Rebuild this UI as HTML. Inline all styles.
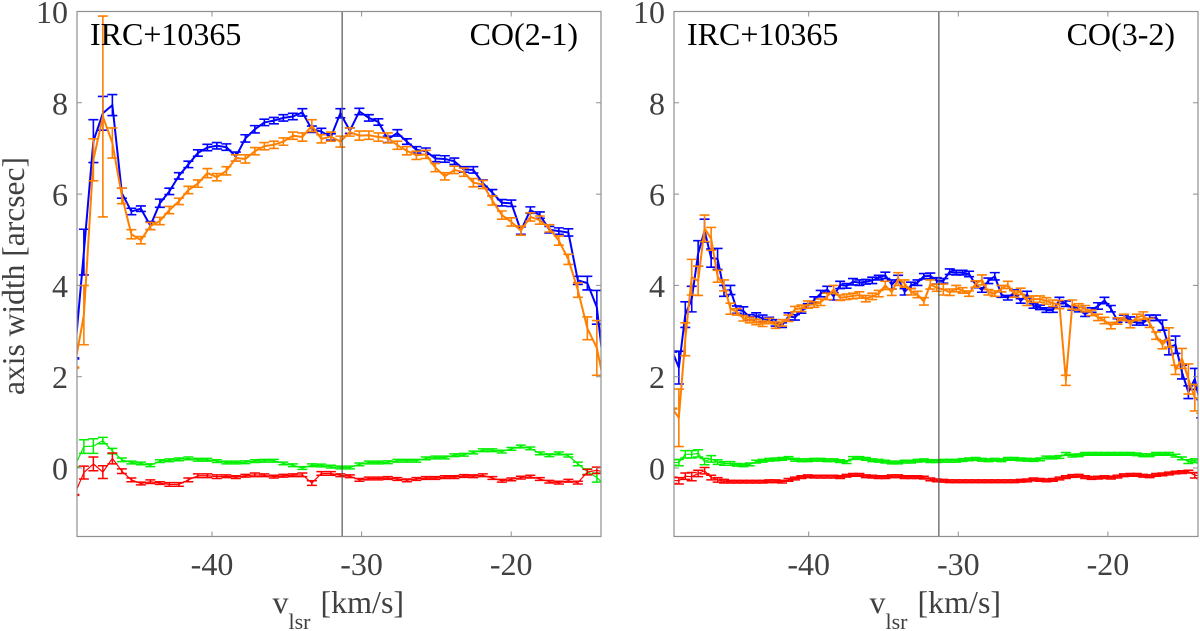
<!DOCTYPE html>
<html lang="en">
<head>
<meta charset="utf-8">
<title>IRC+10365 axis width vs velocity</title>
<style>
html,body{margin:0;padding:0;background:#fff;}
svg{display:block;}
text{font-family:"Liberation Serif",serif;}
</style>
</head>
<body>
<svg id="chart" width="1200" height="631" viewBox="0 0 1200 631" xmlns="http://www.w3.org/2000/svg">
<defs>
<clipPath id="clip-left"><rect x="77" y="11.5" width="524" height="525"/></clipPath>
<clipPath id="clip-right"><rect x="674" y="11.5" width="524" height="525"/></clipPath>
</defs>
</svg>
<script>
// ---- shared axis data ----
const yTickValues = [0, 2, 4, 6, 8, 10];
const xTickValues = [-40, -30, -20];
const referenceVelocity = -31.3;

// ---- CO(2-1) panel data ----
const velocityCO21 = [-49.2,-48.565,-47.93,-47.295,-46.66,-46.025,-45.39,-44.755,-44.12,-43.485,-42.85,-42.215,-41.58,-40.945,-40.31,-39.675,-39.04,-38.405,-37.77,-37.135,-36.5,-35.865,-35.23,-34.595,-33.96,-33.325,-32.69,-32.055,-31.42,-30.785,-30.15,-29.515,-28.88,-28.245,-27.61,-26.975,-26.34,-25.705,-25.07,-24.435,-23.8,-23.165,-22.53,-21.895,-21.26,-20.625,-19.99,-19.355,-18.72,-18.085,-17.45,-16.815,-16.18,-15.545,-14.91,-14.275,-13.64];
const blueCO21 = [2.4,4.73,7.16,7.77,7.95,6.02,5.62,5.68,5.31,5.8,6.06,6.4,6.65,6.9,7.02,7.06,7.03,6.82,7.22,7.42,7.57,7.61,7.67,7.7,7.79,7.42,7.37,7.25,7.77,7.39,7.81,7.67,7.58,7.2,7.34,7.15,6.97,6.94,6.78,6.77,6.72,6.54,6.53,6.24,6.03,5.81,5.8,5.2,5.65,5.54,5.22,5.19,5.16,4.11,4.05,3.52,1.7];
const blueErrCO21 = [.01,.5,.47,.37,.23,.11,.07,.06,.09,.09,.07,.07,.07,.07,.07,.07,.07,.1,.08,.08,.07,.07,.07,.07,.08,.07,.07,.07,.1,.06,.07,.07,.07,.07,.07,.06,.07,.07,.07,.07,.07,.06,.07,.07,.07,.07,.07,.08,.07,.07,.07,.07,.08,.09,.15,.37,.4];
const orangeCO21 = [2.2,3.35,6.75,7.7,7.12,5.96,5.12,4.99,5.3,5.41,5.65,5.84,6.09,6.23,6.46,6.37,6.51,6.79,6.77,6.94,7.05,7.08,7.15,7.28,7.25,7.5,7.21,7.26,7.15,7.36,7.28,7.29,7.25,7.23,7.07,6.95,6.85,6.87,6.58,6.39,6.53,6.48,6.25,6.21,5.86,5.54,5.39,5.2,5.5,5.43,5.25,4.98,4.57,3.9,3.06,2.63,1.6];
const orangeErrCO21 = [.01,.65,.46,2.2,.33,.17,.1,.08,.08,.08,.08,.07,.08,.08,.1,.08,.09,.07,.09,.08,.08,.08,.08,.08,.09,.13,.09,.1,.12,.09,.1,.09,.09,.11,.09,.09,.09,.09,.09,.08,.08,.09,.09,.09,.1,.09,.09,.1,.09,.09,.08,.1,.11,.16,.25,.6,.6];
const greenCO21 = [.02,.47,.48,.6,.37,.18,.12,.1,.06,.15,.17,.19,.21,.18,.18,.15,.12,.12,.125,.15,.16,.16,.1,.06,0,.06,.055,.03,.01,.01,.08,.12,.12,.125,.16,.16,.16,.21,.23,.23,.28,.29,.34,.39,.39,.36,.42,.47,.43,.32,.28,.32,.27,.09,-.08,-.21,-.4];
const greenErrCO21 = [.01,.15,.16,.07,.06,.04,.03,.03,.03,.03,.03,.03,.03,.03,.03,.03,.03,.03,.03,.03,.03,.03,.03,.03,.03,.03,.03,.03,.03,.03,.03,.03,.03,.03,.03,.03,.03,.03,.03,.03,.03,.03,.03,.03,.03,.03,.03,.03,.03,.03,.03,.03,.03,.04,.06,.1,.1];
const redCO21 = [-.59,-.1,.09,-.09,.21,-.07,-.26,-.34,-.3,-.33,-.36,-.36,-.26,-.17,-.17,-.19,-.18,-.2,-.17,-.15,-.16,-.19,-.17,-.16,-.15,-.33,-.12,-.12,-.16,-.18,-.26,-.23,-.23,-.22,-.24,-.27,-.24,-.22,-.22,-.2,-.2,-.175,-.18,-.16,-.22,-.28,-.25,-.21,-.19,-.24,-.3,-.32,-.28,-.32,-.09,-.05,-.1];
const redErrCO21 = [.01,.14,.15,.14,.12,.05,.04,.03,.04,.03,.04,.04,.04,.04,.04,.04,.03,.03,.03,.04,.03,.03,.03,.03,.04,.05,.04,.04,.03,.03,.03,.03,.03,.03,.03,.03,.03,.03,.03,.03,.03,.03,.03,.03,.03,.03,.03,.03,.03,.03,.03,.03,.03,.03,.06,.07,.07];

// ---- CO(3-2) panel data ----
const velocityCO32 = [-49.11,-48.68,-48.25,-47.82,-47.39,-46.96,-46.52,-46.09,-45.66,-45.23,-44.80,-44.37,-43.94,-43.51,-43.08,-42.64,-42.21,-41.78,-41.35,-40.92,-40.49,-40.06,-39.63,-39.20,-38.76,-38.33,-37.90,-37.47,-37.04,-36.61,-36.18,-35.75,-35.32,-34.88,-34.45,-34.02,-33.59,-33.16,-32.73,-32.30,-31.87,-31.44,-31.00,-30.57,-30.14,-29.71,-29.28,-28.85,-28.42,-27.99,-27.56,-27.12,-26.69,-26.26,-25.83,-25.40,-24.97,-24.54,-24.11,-23.68,-23.24,-22.81,-22.38,-21.95,-21.52,-21.09,-20.66,-20.23,-19.80,-19.36,-18.93,-18.50,-18.07,-17.64,-17.21,-16.78,-16.35,-15.92,-15.48,-15.05,-14.62,-14.19,-13.76];
const blueCO32 = [2.55,2.2,3.36,3.7,4.7,5.2,4.6,4.58,3.88,3.9,3.47,3.44,3.3,3.33,3.28,3.23,3.18,3.13,3.32,3.3,3.44,3.55,3.68,3.82,3.91,3.76,4.01,3.99,4.08,4.06,4.08,4.11,4.17,4.22,4.02,4.15,3.86,4.0,4.06,4.2,4.21,4.1,4.1,4.3,4.28,4.28,4.25,4.02,3.9,4.1,4.2,3.8,3.73,3.84,3.66,3.8,3.55,3.52,3.46,3.46,3.67,3.6,3.5,3.47,3.37,3.46,3.55,3.67,3.49,3.23,3.29,3.25,3.18,3.18,3.29,3.29,3.13,2.64,2.7,2.1,1.66,1.95,1.3];
const blueErrCO32 = [.01,.36,.28,.28,.28,.25,.2,.23,.12,.1,.08,.09,.06,.07,.07,.07,.07,.05,.08,.06,.05,.05,.07,.07,.07,.08,.08,.05,.07,.06,.05,.07,.05,.07,.1,.07,.07,.07,.06,.06,.06,.07,.05,.06,.05,.05,.06,.07,.05,.06,.08,.06,.05,.06,.05,.07,.05,.05,.05,.05,.07,.06,.04,.05,.05,.05,.07,.07,.07,.04,.06,.06,.05,.05,.06,.06,.11,.16,.19,.15,.14,.23,.2];
const orangeCO32 = [1.3,1.1,2.82,4.18,4.1,5.25,5.02,4.2,4.0,3.49,3.42,3.28,3.24,3.2,3.16,3.22,3.13,3.18,3.28,3.48,3.5,3.58,3.58,3.63,3.76,3.91,3.73,3.75,3.77,3.79,3.71,3.76,3.82,4.0,3.85,4.14,4.04,3.86,3.8,3.65,4.02,3.95,3.91,3.85,3.93,3.89,3.82,4.03,4.12,3.85,3.82,3.93,4.01,3.81,3.87,3.65,3.7,3.7,3.66,3.61,3.58,1.92,3.58,3.53,3.49,3.4,3.3,3.23,3.12,3.22,3.3,3.15,3.3,3.34,3.18,2.9,2.7,2.86,2.15,2.4,1.95,1.54,1.5];
const orangeErrCO32 = [.01,.63,.36,.39,.32,.29,.25,.13,.12,.12,.07,.06,.06,.06,.06,.06,.07,.07,.07,.06,.07,.08,.06,.07,.07,.09,.06,.06,.06,.07,.07,.07,.07,.09,.07,.14,.08,.07,.07,.08,.1,.08,.12,.07,.07,.06,.06,.07,.11,.06,.06,.07,.08,.07,.07,.09,.07,.07,.07,.07,.09,.11,.1,.07,.07,.06,.07,.07,.07,.07,.07,.08,.07,.08,.1,.08,.09,.21,.1,.22,.33,.29,.3];
const greenCO32 = [.12,.12,.3,.3,.32,.14,.2,.13,.1,.1,.07,.06,.08,.14,.16,.18,.19,.2,.22,.18,.17,.17,.18,.18,.17,.17,.15,.13,.22,.22,.2,.17,.16,.14,.12,.12,.14,.14,.16,.17,.15,.15,.16,.16,.16,.175,.19,.2,.18,.17,.18,.17,.2,.2,.19,.18,.175,.19,.23,.23,.24,.31,.27,.28,.31,.31,.31,.31,.31,.31,.31,.31,.3,.28,.28,.31,.31,.31,.27,.21,.14,.16,.15];
const greenErrCO32 = [.06,.07,.08,.08,.08,.07,.07,.05,.04,.04,.03,.03,.03,.03,.03,.03,.03,.03,.03,.03,.03,.03,.03,.03,.03,.03,.03,.03,.03,.03,.03,.03,.03,.03,.03,.03,.03,.03,.03,.03,.03,.03,.03,.03,.03,.03,.03,.03,.03,.03,.03,.03,.03,.03,.03,.03,.03,.03,.03,.03,.03,.03,.03,.03,.03,.03,.03,.03,.03,.03,.03,.03,.03,.03,.03,.03,.03,.03,.03,.03,.04,.04,.04];
const redCO32 = [-.27,-.28,-.18,-.19,-.12,-.06,-.21,-.26,-.29,-.3,-.3,-.3,-.3,-.3,-.3,-.29,-.29,-.3,-.26,-.23,-.2,-.18,-.19,-.19,-.19,-.19,-.2,-.17,-.15,-.15,-.18,-.19,-.2,-.2,-.18,-.18,-.2,-.2,-.2,-.21,-.25,-.27,-.28,-.29,-.29,-.29,-.29,-.29,-.29,-.29,-.29,-.29,-.29,-.29,-.28,-.27,-.25,-.26,-.27,-.26,-.23,-.2,-.175,-.17,-.2,-.22,-.21,-.2,-.21,-.19,-.16,-.15,-.15,-.17,-.18,-.15,-.14,-.12,-.1,-.09,-.08,-.16,-.17];
const redErrCO32 = [.07,.07,.07,.09,.07,.07,.05,.05,.04,.03,.03,.03,.03,.03,.03,.03,.03,.03,.03,.03,.03,.03,.03,.03,.03,.03,.03,.03,.03,.03,.03,.03,.03,.03,.03,.03,.03,.03,.03,.03,.03,.03,.03,.03,.03,.03,.03,.03,.03,.03,.03,.03,.03,.03,.03,.03,.03,.03,.03,.03,.03,.03,.03,.03,.03,.03,.03,.03,.03,.03,.03,.03,.03,.03,.03,.03,.03,.03,.03,.03,.03,.06,.06];

const NS = 'http://www.w3.org/2000/svg';
const svg = document.getElementById('chart');

function node(tag, attrs, parent) {
  const el = document.createElementNS(NS, tag);
  for (const k in attrs) el.setAttribute(k, attrs[k]);
  parent.appendChild(el);
  return el;
}

function drawSeries(parent, name, xs, ys, errs, color, lineW, capW, xScale, yScale) {
  const group = node('g', {fill: 'none', stroke: color}, parent);
  
  
  const line = node('polyline', {'stroke-width': lineW, 'stroke-linejoin': 'round',
    points: xs.map((v, i) => xScale(v).toFixed(2) + ',' + yScale(ys[i]).toFixed(2)).join(' ')}, group);
  
  
  xs.forEach((v, i) => {
    const x = xScale(v), hi = yScale(ys[i] + errs[i]), lo = yScale(ys[i] - errs[i]);
    const bar = node('path', {'stroke-width': capW,
      d: 'M' + x.toFixed(2) + ' ' + hi.toFixed(2) + 'V' + lo.toFixed(2) +
         'M' + (x - 5).toFixed(2) + ' ' + hi.toFixed(2) + 'H' + (x + 5).toFixed(2) +
         'M' + (x - 5).toFixed(2) + ' ' + lo.toFixed(2) + 'H' + (x + 5).toFixed(2)}, group);
    
    
  });
}

function drawPanel(p) {
  const panel = node('g', {}, svg);
  
  
  const xScale = v => p.x40 + (v + 40) * 14.96;
  const yScale = v => 468 - v * 45.65;
  const top = yScale(10), bottom = yScale(-1.5);

  const plot = node('g', {'clip-path': 'url(#' + p.clip + ')'}, panel);
  
  
  drawSeries(plot, 'major-axis-blue-series', p.v, p.blue, p.blueErr, '#0000ff', 2, 1.6, xScale, yScale);
  drawSeries(plot, 'minor-axis-orange-series', p.v, p.orange, p.orangeErr, '#ff8000', 2, 1.6, xScale, yScale);
  drawSeries(plot, 'green-series', p.v, p.green, p.greenErr, '#00f000', 1.2, 1.5, xScale, yScale);
  drawSeries(plot, 'red-series', p.v, p.red, p.redErr, '#ff0000', 1.2, 1.5, xScale, yScale);

  const ref = node('line', {x1: xScale(referenceVelocity), x2: xScale(referenceVelocity), y1: top, y2: bottom, stroke: '#555', 'stroke-width': 1.2}, panel);
  
  

  const box = node('rect', {x: p.left, y: top, width: p.right - p.left, height: bottom - top, fill: 'none', stroke: '#8f8f8f', 'stroke-width': 1.2}, panel);
  
  

  yTickValues.forEach(t => {
    const y = yScale(t);
    const tick = node('path', {d: 'M' + p.left + ' ' + y + 'h5M' + p.right + ' ' + y + 'h-5', stroke: '#8f8f8f', 'stroke-width': 1, fill: 'none'}, panel);
    
    
    const label = node('text', {x: p.left - 9, y: y + 11.5, 'text-anchor': 'end', 'font-size': 32, fill: '#404040'}, panel);
    
    
    label.textContent = String(t);
  });
  xTickValues.forEach(t => {
    const x = xScale(t);
    const tick = node('path', {d: 'M' + x + ' ' + bottom + 'v-5M' + x + ' ' + top + 'v5', stroke: '#8f8f8f', 'stroke-width': 1, fill: 'none'}, panel);
    
    
    const label = node('text', {x: x, y: 575, 'text-anchor': 'middle', 'font-size': 32, fill: '#404040'}, panel);
    
    
    label.textContent = String(t);
  });

  const xTitle = node('text', {x: p.left + 195.5, y: 613, 'font-size': 32, fill: '#404040'}, panel);
  
  
  node('tspan', {}, xTitle).textContent = 'v';
  node('tspan', {dy: 16, 'font-size': 22}, xTitle).textContent = 'lsr';
  node('tspan', {dy: -16, dx: 2}, xTitle).textContent = ' [km/s]';

  const source = node('text', {x: p.left + 13, y: 45, 'font-size': 32, fill: '#000'}, panel);
  
  
  source.textContent = 'IRC+10365';

  const lineLabel = node('text', {x: p.right - 23, y: 45, 'text-anchor': 'end', 'font-size': 32, fill: '#000'}, panel);
  
  
  lineLabel.textContent = p.title;
}

drawPanel({name: 'co21-panel', title: 'CO(2-1)', clip: 'clip-left', left: 77, right: 601, x40: 212,
  v: velocityCO21, blue: blueCO21, blueErr: blueErrCO21, orange: orangeCO21, orangeErr: orangeErrCO21,
  green: greenCO21, greenErr: greenErrCO21, red: redCO21, redErr: redErrCO21});
drawPanel({name: 'co32-panel', title: 'CO(3-2)', clip: 'clip-right', left: 674, right: 1198, x40: 808.7,
  v: velocityCO32, blue: blueCO32, blueErr: blueErrCO32, orange: orangeCO32, orangeErr: orangeErrCO32,
  green: greenCO32, greenErr: greenErrCO32, red: redCO32, redErr: redErrCO32});

const yTitle = node('text', {transform: 'translate(24,276) rotate(-90)', 'text-anchor': 'middle', 'font-size': 31.5, fill: '#404040'}, svg);


yTitle.textContent = 'axis width [arcsec]';
</script>
</body>
</html>
